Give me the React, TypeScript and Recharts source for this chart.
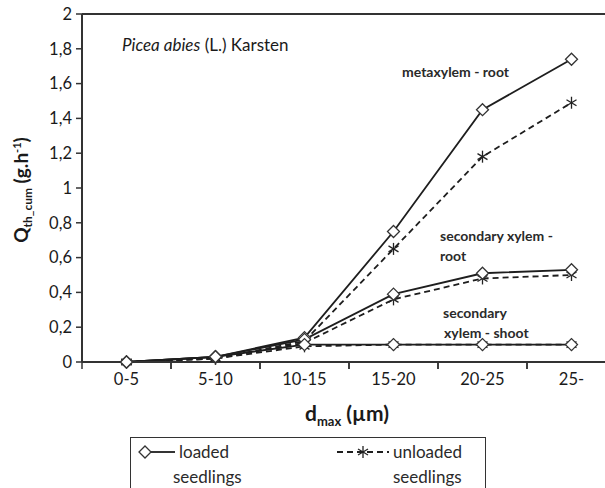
import React from 'react';
import { LineChart, Line, XAxis, YAxis, ReferenceLine, Label } from 'recharts';

const categories = ['0-5', '5-10', '10-15', '15-20', '20-25', '25-'];
const metaLoaded = [0, 0.03, 0.14, 0.75, 1.45, 1.74];
const metaUnloaded = [0, 0.02, 0.12, 0.65, 1.18, 1.49];
const secRootLoaded = [0, 0.03, 0.13, 0.39, 0.51, 0.53];
const secRootUnloaded = [0, 0.02, 0.11, 0.36, 0.48, 0.5];
const secShootLoaded = [0, 0.03, 0.1, 0.1, 0.1, 0.1];
const secShootUnloaded = [0, 0.02, 0.09, 0.1, 0.1, 0.1];
const yTicks = [0, 0.2, 0.4, 0.6, 0.8, 1, 1.2, 1.4, 1.6, 1.8, 2];

const data = categories.map((cat, i) => ({
  cat,
  metaLoaded: metaLoaded[i],
  metaUnloaded: metaUnloaded[i],
  secRootLoaded: secRootLoaded[i],
  secRootUnloaded: secRootUnloaded[i],
  secShootLoaded: secShootLoaded[i],
  secShootUnloaded: secShootUnloaded[i],
}));

const INK = '#1e1e1e';
const FONT = 'Lato, "Open Sans", sans-serif';
// plot is 534px wide for 6 categories -> half a category
const HALF_BAND = 44.5;

function Diamond({ cx, cy }: any) {
  if (cx == null || cy == null) return null;
  return (
    <polygon
      points={`${cx},${cy - 6} ${cx + 6},${cy} ${cx},${cy + 6} ${cx - 6},${cy}`}
      fill="#fff"
      stroke="#333"
      strokeWidth={1.3}
    />
  );
}

function Star({ cx, cy }: any) {
  if (cx == null || cy == null) return null;
  return (
    <g stroke="#222" strokeWidth={1.3}>
      <line x1={cx} y1={cy - 6} x2={cx} y2={cy + 6} />
      <line x1={cx - 5} y1={cy - 3} x2={cx + 5} y2={cy + 3} />
      <line x1={cx - 5} y1={cy + 3} x2={cx + 5} y2={cy - 3} />
    </g>
  );
}

function XTick(props: any) {
  const { x, y, payload } = props;
  return (
    <g>
      <line x1={x - HALF_BAND} x2={x - HALF_BAND} y1={y - 8} y2={y - 1} stroke="#333" strokeWidth={1.5} />
      <line x1={x + HALF_BAND} x2={x + HALF_BAND} y1={y - 8} y2={y - 1} stroke="#333" strokeWidth={1.5} />
      <text x={x} y={y} dy={15} textAnchor="middle" fill="#1a1a1a" fontSize={16.5} fontFamily={FONT}>
        {payload.value}
      </text>
    </g>
  );
}

const solid = { stroke: INK, strokeWidth: 1.8, dot: <Diamond />, isAnimationActive: false };
const dashed = { stroke: INK, strokeWidth: 1.8, strokeDasharray: '6 4', dot: <Star />, isAnimationActive: false };

const annotation = { fill: '#2a2a2a', fontSize: 14, fontWeight: 'bold' as const, fontFamily: FONT };
const legendText = { fill: '#2a2a2a', fontSize: 17, fontFamily: FONT };

export default function App() {
  return (
    <div style={{ position: 'absolute', left: 0, top: 0, width: 605, height: 488, overflow: 'hidden', background: '#fff', fontFamily: FONT }}>
      <LineChart width={620} height={488} data={data} margin={{ top: 14, right: 4, left: 0, bottom: 76 }}>
        <XAxis
          dataKey="cat"
          height={50}
          padding={{ left: HALF_BAND, right: HALF_BAND }}
          axisLine={{ stroke: '#333', strokeWidth: 2 }}
          tickLine={false}
          tick={<XTick />}
          interval={0}
        >
          <Label
            content={() => (
              <text x={347} y={421} textAnchor="middle" fill="#1a1a1a" fontSize={21} fontWeight="bold" fontFamily={FONT}>
                d<tspan fontSize={13} dy={5}>max</tspan>
                <tspan dy={-5}> (µm)</tspan>
              </text>
            )}
          />
        </XAxis>
        <YAxis
          width={82}
          domain={[0, 2]}
          ticks={yTicks}
          interval={0}
          tickFormatter={(v: number) => String(v).replace('.', ',')}
          axisLine={{ stroke: '#333', strokeWidth: 2 }}
          tickLine={{ stroke: '#333', strokeWidth: 1.5 }}
          tickSize={6}
          tickMargin={4}
          tick={{ fill: '#1a1a1a', fontSize: 16.5, fontFamily: FONT }}
        >
          <Label
            content={() => (
              <text transform="translate(28,190) rotate(-90)" textAnchor="middle" fill="#1a1a1a" fontSize={19} fontWeight="bold" fontFamily={FONT}>
                Q<tspan fontSize={12} dy={4}>th_cum</tspan>
                <tspan dy={-4}> (g.h</tspan>
                <tspan fontSize={11} dy={-7}>-1</tspan>
                <tspan dy={7}>)</tspan>
              </text>
            )}
          />
        </YAxis>
        <ReferenceLine y={2} stroke="#333" strokeWidth={2} />
        <Line dataKey="metaUnloaded" {...dashed} />
        <Line dataKey="secRootUnloaded" {...dashed} />
        <Line dataKey="secShootUnloaded" {...dashed} />
        <Line dataKey="metaLoaded" {...solid} />
        <Line dataKey="secRootLoaded" {...solid} />
        <Line dataKey="secShootLoaded" {...solid} />
        <text x={122} y={51} fill="#1a1a1a" fontSize={17} fontFamily={FONT}>
          <tspan fontStyle="italic">Picea abies</tspan> (L.) Karsten
        </text>
        <text x={402} y={77} {...annotation}>metaxylem - root</text>
        <text x={440} y={241} {...annotation}>secondary xylem -</text>
        <text x={440} y={261} {...annotation}>root</text>
        <text x={443} y={318} {...annotation}>secondary</text>
        <text x={444} y={338} {...annotation}>xylem  - shoot</text>
      </LineChart>
      <div style={{ position: 'absolute', left: 130, top: 437, width: 356, height: 60, border: '1px solid #333', boxSizing: 'border-box', background: '#fff' }}>
        <svg width={356} height={60} style={{ position: 'absolute', left: 0, top: 0 }}>
          <line x1={12} x2={44} y1={14} y2={14} stroke={INK} strokeWidth={1.8} />
          <Diamond cx={14} cy={14} />
          <line x1={206} x2={258} y1={14} y2={14} stroke={INK} strokeWidth={1.8} strokeDasharray="6 4" />
          <Star cx={232} cy={14} />
          <text x={48} y={20} {...legendText}>loaded</text>
          <text x={42} y={45} {...legendText}>seedlings</text>
          <text x={262} y={20} {...legendText}>unloaded</text>
          <text x={262} y={45} {...legendText}>seedlings</text>
        </svg>
      </div>
    </div>
  );
}
